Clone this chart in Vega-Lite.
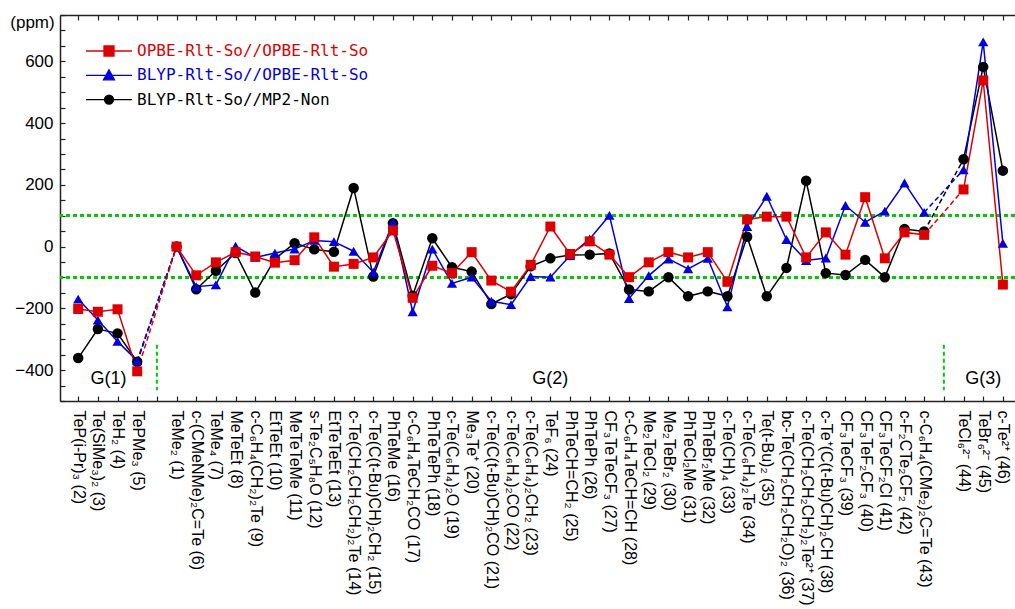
{
  "$schema": "https://vega.github.io/schema/vega-lite/v6.json",
  "width": 955,
  "height": 386,
  "autosize": "none",
  "padding": {"left": 60, "top": 15, "right": 0, "bottom": 208},
  "background": "white",
  "config": {
    "view": {"stroke": null},
    "axis": {"domainColor": "#222222", "tickColor": "#222222", "domainWidth": 1.5, "tickWidth": 1.2, "grid": false, "labelColor": "black", "labelFont": "Liberation Sans"}
  },
  "data": {"values": [
    {"name": "TeP(i-Pr)₃ (2)", "grp": 1, "r": -202, "b": -170, "k": -361},
    {"name": "Te(SiMe₃)₂ (3)", "grp": 1, "r": -211, "b": -238, "k": -267},
    {"name": "TeH₂ (4)", "grp": 1, "r": -203, "b": -307, "k": -281},
    {"name": "TePMe₃ (5)", "grp": 1, "link": "a", "r": -404, "b": -370, "k": -373},
    {"name": "TeMe₂ (1)", "grp": 2, "link": "a", "r": 0, "b": 0, "k": 0},
    {"name": "c-(CMeNMe)₂C=Te (6)", "grp": 2, "r": -93, "b": -130, "k": -138},
    {"name": "TeMe₄ (7)", "grp": 2, "r": -51, "b": -124, "k": -78},
    {"name": "MeTeEt (8)", "grp": 2, "r": -18, "b": 1, "k": -21},
    {"name": "c-C₆H₄(CH₂)₂Te (9)", "grp": 2, "r": -32, "b": -35, "k": -149},
    {"name": "EtTeEt (10)", "grp": 2, "r": -52, "b": -21, "k": -40},
    {"name": "MeTeTeMe (11)", "grp": 2, "r": -44, "b": -8, "k": 11},
    {"name": "s-Te₂C₅H₈O (12)", "grp": 2, "r": 30, "b": 20, "k": -9},
    {"name": "EtTeTeEt (13)", "grp": 2, "r": -65, "b": 16, "k": -17},
    {"name": "c-Te(CH₂CH₂CH₂)₂Te (14)", "grp": 2, "r": -56, "b": -15, "k": 190},
    {"name": "c-Te(C(t-Bu)CH)₂CH₂ (15)", "grp": 2, "r": -35, "b": -83, "k": -97},
    {"name": "PhTeMe (16)", "grp": 2, "r": 52, "b": 79, "k": 76},
    {"name": "c-C₆H₄TeCH₂CO (17)", "grp": 2, "r": -166, "b": -211, "k": -159},
    {"name": "PhTeTePh (18)", "grp": 2, "r": -62, "b": -8, "k": 27},
    {"name": "c-Te(C₆H₄)₂O (19)", "grp": 2, "r": -86, "b": -119, "k": -67},
    {"name": "Me₃Te⁺ (20)", "grp": 2, "r": -18, "b": -99, "k": -81},
    {"name": "c-Te(C(t-Bu)CH)₂CO (21)", "grp": 2, "r": -110, "b": -177, "k": -186},
    {"name": "c-Te(C₆H₄)₂CO (22)", "grp": 2, "r": -146, "b": -188, "k": -154},
    {"name": "c-Te(C₆H₄)₂CH₂ (23)", "grp": 2, "r": -59, "b": -97, "k": -64},
    {"name": "TeF₆ (24)", "grp": 2, "r": 65, "b": -99, "k": -38},
    {"name": "PhTeCH=CH₂ (25)", "grp": 2, "r": -24, "b": -29, "k": -27},
    {"name": "PhTePh (26)", "grp": 2, "r": 17, "b": 25, "k": -26},
    {"name": "CF₃TeTeCF₃ (27)", "grp": 2, "r": -26, "b": 101, "k": -22},
    {"name": "c-C₆H₄TeCH=CH (28)", "grp": 2, "r": -99, "b": -168, "k": -139},
    {"name": "Me₂TeCl₂ (29)", "grp": 2, "r": -51, "b": -94, "k": -145},
    {"name": "Me₂TeBr₂ (30)", "grp": 2, "r": -18, "b": -40, "k": -99},
    {"name": "PhTeCl₂Me (31)", "grp": 2, "r": -35, "b": -72, "k": -161},
    {"name": "PhTeBr₂Me (32)", "grp": 2, "r": -18, "b": -38, "k": -145},
    {"name": "c-Te(CH)₄ (33)", "grp": 2, "r": -114, "b": -195, "k": -161},
    {"name": "c-Te(C₆H₄)₂Te (34)", "grp": 2, "r": 88, "b": 65, "k": 32},
    {"name": "Te(t-Bu)₂ (35)", "grp": 2, "r": 97, "b": 163, "k": -161},
    {"name": "bc-Te(CH₂CH₂CH₂O)₂ (36)", "grp": 2, "r": 97, "b": 23, "k": -69},
    {"name": "c-Te(CH₂CH₂CH₂)₂Te²⁺ (37)", "grp": 2, "r": -35, "b": -45, "k": 213},
    {"name": "c-Te⁺(C(t-Bu)CH)₂CH (38)", "grp": 2, "r": 46, "b": -37, "k": -86},
    {"name": "CF₃TeCF₃ (39)", "grp": 2, "r": -26, "b": 133, "k": -92},
    {"name": "CF₃TeF₂CF₃ (40)", "grp": 2, "r": 160, "b": 79, "k": -43},
    {"name": "CF₃TeCF₂Cl (41)", "grp": 2, "r": -38, "b": 115, "k": -99},
    {"name": "c-F₂CTe₂CF₂ (42)", "grp": 2, "r": 46, "b": 206, "k": 57},
    {"name": "c-C₆H₄(CMe₂)₂C=Te (43)", "grp": 2, "link": "b", "r": 38, "b": 111, "k": 49},
    {"name": "TeCl₆²⁻ (44)", "grp": 3, "link": "b", "r": 185, "b": 249, "k": 283},
    {"name": "TeBr₆²⁻ (45)", "grp": 3, "r": 538, "b": 663, "k": 582},
    {"name": "c-Te²⁺ (46)", "grp": 3, "r": -123, "b": 11, "k": 246}
  ]},
  "layer": [
    {
      "mark": {"type": "rule", "color": "#00cc00", "strokeWidth": 2, "strokeDash": [4, 3]},
      "encoding": {"y": {"datum": 100, "type": "quantitative", "axis": null}}
    },
    {
      "mark": {"type": "rule", "color": "#00cc00", "strokeWidth": 1.5, "strokeDash": [4, 3]},
      "encoding": {"y": {"datum": -100, "type": "quantitative", "axis": null}}
    },
    {
      "data": {"values": [{"gap": " "}, {"gap": "  "}]},
      "mark": {"type": "rule", "color": "#00cc00", "strokeWidth": 2, "strokeDash": [4, 3]},
      "encoding": {
        "x": {"field": "gap", "type": "nominal", "axis": {"orient": "top", "offset": -5, "labels": false, "title": null, "ticks": true, "tickSize": 5, "domain": false}},
        "y": {"datum": -318, "type": "quantitative", "axis": null},
        "y2": {"datum": -465}
      }
    },
    {
      "transform": [{"fold": ["k", "b", "r"], "as": ["series", "value"]}],
      "mark": {"type": "line", "strokeWidth": 1.5},
      "encoding": {
        "x": {"field": "name", "type": "nominal",
          "scale": {"type": "point", "padding": 0.77, "align": 0.6, "domain": ["TeP(i-Pr)₃ (2)", "Te(SiMe₃)₂ (3)", "TeH₂ (4)", "TePMe₃ (5)", " ", "TeMe₂ (1)", "c-(CMeNMe)₂C=Te (6)", "TeMe₄ (7)", "MeTeEt (8)", "c-C₆H₄(CH₂)₂Te (9)", "EtTeEt (10)", "MeTeTeMe (11)", "s-Te₂C₅H₈O (12)", "EtTeTeEt (13)", "c-Te(CH₂CH₂CH₂)₂Te (14)", "c-Te(C(t-Bu)CH)₂CH₂ (15)", "PhTeMe (16)", "c-C₆H₄TeCH₂CO (17)", "PhTeTePh (18)", "c-Te(C₆H₄)₂O (19)", "Me₃Te⁺ (20)", "c-Te(C(t-Bu)CH)₂CO (21)", "c-Te(C₆H₄)₂CO (22)", "c-Te(C₆H₄)₂CH₂ (23)", "TeF₆ (24)", "PhTeCH=CH₂ (25)", "PhTePh (26)", "CF₃TeTeCF₃ (27)", "c-C₆H₄TeCH=CH (28)", "Me₂TeCl₂ (29)", "Me₂TeBr₂ (30)", "PhTeCl₂Me (31)", "PhTeBr₂Me (32)", "c-Te(CH)₄ (33)", "c-Te(C₆H₄)₂Te (34)", "Te(t-Bu)₂ (35)", "bc-Te(CH₂CH₂CH₂O)₂ (36)", "c-Te(CH₂CH₂CH₂)₂Te²⁺ (37)", "c-Te⁺(C(t-Bu)CH)₂CH (38)", "CF₃TeCF₃ (39)", "CF₃TeF₂CF₃ (40)", "CF₃TeCF₂Cl (41)", "c-F₂CTe₂CF₂ (42)", "c-C₆H₄(CMe₂)₂C=Te (43)", "  ", "TeCl₆²⁻ (44)", "TeBr₆²⁻ (45)", "c-Te²⁺ (46)"]},
          "axis": {"orient": "bottom", "title": null, "labelAngle": 90, "ticks": false, "tickSize": 0, "domain": true, "labelPadding": 9, "labelFontSize": 16, "labelLimit": 400, "labelOverlap": false}
        },
        "y": {"field": "value", "type": "quantitative",
          "scale": {"domain": [-500, 750], "nice": false, "zero": false},
          "axis": {"orient": "left", "values": [-400, -200, 0, 200, 400, 600], "format": "d",
            "ticks": false, "tickSize": 0, "domain": true, "labelPadding": 7, "labelFontSize": 17,
            "title": "(ppm)", "titleAngle": 0, "titleX": -28, "titleY": 7, "titleAlign": "center", "titleBaseline": "middle", "titleFontSize": 17, "titleFontWeight": "normal", "titleFont": "Liberation Sans", "titleColor": "black"}
        },
        "color": {"field": "series", "type": "nominal", "scale": {"domain": ["r", "b", "k"], "range": ["#dd0000", "#0000dd", "#000000"]}, "legend": null},
        "detail": {"field": "grp"},
        "order": {"value": null}
      }
    },
    {
      "transform": [{"filter": "datum.link != null"}, {"fold": ["k", "b", "r"], "as": ["series", "value"]}],
      "mark": {"type": "line", "strokeWidth": 1.5, "strokeDash": [5, 3]},
      "encoding": {
        "x": {"field": "name", "type": "nominal", "axis": {"orient": "bottom", "offset": -5, "labels": false, "title": null, "ticks": true, "tickSize": 5, "domain": false}},
        "y": {"field": "value", "type": "quantitative", "axis": null},
        "color": {"field": "series", "type": "nominal", "legend": null},
        "detail": {"field": "link"},
        "order": {"value": null}
      }
    },
    {
      "transform": [{"fold": ["k", "b", "r"], "as": ["series", "value"]}],
      "mark": {"type": "point", "filled": true, "opacity": 1},
      "encoding": {
        "x": {"field": "name", "type": "nominal", "axis": null},
        "y": {"field": "value", "type": "quantitative", "axis": {"orient": "left", "offset": -5, "values": [-500, -450, -400, -350, -300, -250, -200, -150, -100, -50, 0, 50, 100, 150, 200, 250, 300, 350, 400, 450, 500, 550, 600, 650, 700, 750], "labels": false, "title": null, "ticks": true, "tickSize": 5, "domain": false}},
        "shape": {"field": "series", "type": "nominal", "scale": {"domain": ["r", "b", "k"], "range": ["square", "triangle-up", "circle"]}, "legend": null},
        "size": {"field": "series", "type": "nominal", "scale": {"domain": ["r", "b", "k"], "range": [100, 110, 80]}, "legend": null},
        "color": {"field": "series", "type": "nominal", "legend": null}
      }
    },
    {
      "data": {"values": [{"g": "G(1)", "at": "TeH₂ (4)"}]},
      "mark": {"type": "text", "font": "Liberation Sans", "fontSize": 18, "color": "black", "align": "center", "baseline": "middle", "dx": -9},
      "encoding": {
        "x": {"field": "at", "type": "nominal", "axis": null},
        "y": {"datum": -428, "type": "quantitative", "axis": null},
        "text": {"field": "g"}
      }
    },
    {
      "data": {"values": [{"g": "G(2)", "at": "TeF₆ (24)"}, {"g": "G(3)", "at": "TeBr₆²⁻ (45)"}]},
      "mark": {"type": "text", "font": "Liberation Sans", "fontSize": 18, "color": "black", "align": "center", "baseline": "middle"},
      "encoding": {
        "x": {"field": "at", "type": "nominal", "axis": {"orient": "top", "labels": false, "ticks": false, "tickSize": 0, "domain": true, "title": null}},
        "y": {"datum": -428, "type": "quantitative", "axis": null},
        "text": {"field": "g"}
      }
    },
    {
      "data": {"values": []},
      "mark": {"type": "point", "filled": true, "opacity": 1},
      "encoding": {
        "fill": {"field": "s", "type": "nominal", "scale": {"domain": ["OPBE-Rlt-So//OPBE-Rlt-So"], "range": ["#dd0000"]},
          "legend": {"title": null, "orient": "none", "legendX": 41, "legendY": 28, "padding": 0, "symbolSize": 100, "symbolOpacity": 1,
            "symbolType": "M-4.6,0H4.6M-1,-1H1V1H-1Z", "symbolStrokeColor": "#dd0000", "symbolStrokeWidth": 1.3,
            "labelOffset": 20, "labelFont": "DejaVu Sans Mono", "labelFontSize": 16, "labelLimit": 0, "labelColor": "#dd0000"}}
      }
    },
    {
      "data": {"values": []},
      "mark": {"type": "point", "filled": true, "opacity": 1},
      "encoding": {
        "fill": {"field": "s", "type": "nominal", "scale": {"domain": ["BLYP-Rlt-So//OPBE-Rlt-So"], "range": ["#0000dd"]},
          "legend": {"title": null, "orient": "none", "legendX": 41, "legendY": 52.3, "padding": 0, "symbolSize": 100, "symbolOpacity": 1,
            "symbolType": "M-4.6,0H4.6M0,-1.1L1.1,0.9L-1.1,0.9Z", "symbolStrokeColor": "#0000dd", "symbolStrokeWidth": 1.3,
            "labelOffset": 20, "labelFont": "DejaVu Sans Mono", "labelFontSize": 16, "labelLimit": 0, "labelColor": "#0000dd"}}
      }
    },
    {
      "data": {"values": []},
      "mark": {"type": "point", "filled": true, "opacity": 1},
      "encoding": {
        "fill": {"field": "s", "type": "nominal", "scale": {"domain": ["BLYP-Rlt-So//MP2-Non"], "range": ["#000000"]},
          "legend": {"title": null, "orient": "none", "legendX": 41, "legendY": 76.6, "padding": 0, "symbolSize": 100, "symbolOpacity": 1,
            "symbolType": "M-4.6,0H4.6M0.9,0A0.9,0.9 0 1 1 -0.9,0A0.9,0.9 0 1 1 0.9,0Z", "symbolStrokeColor": "#000000", "symbolStrokeWidth": 1.3,
            "labelOffset": 20, "labelFont": "DejaVu Sans Mono", "labelFontSize": 16, "labelLimit": 0, "labelColor": "#000000"}}
      }
    }
  ],
  "resolve": {"axis": {"x": "independent", "y": "independent"}, "scale": {"fill": "independent"}, "legend": {"fill": "independent"}}
}
